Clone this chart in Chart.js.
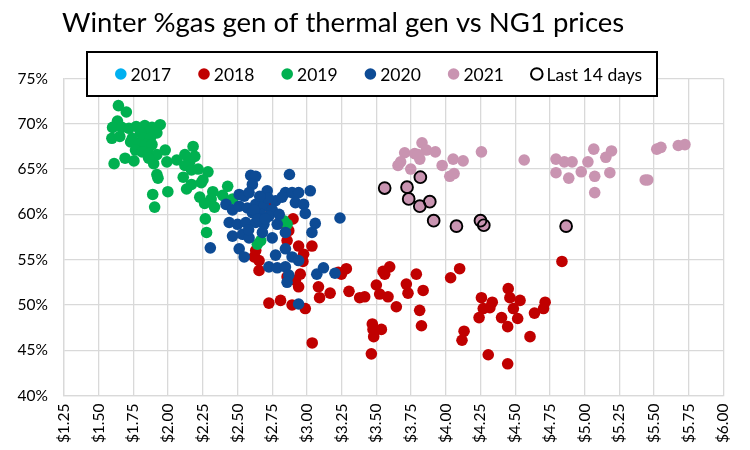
<!DOCTYPE html>
<html>
<head>
<meta charset="utf-8">
<script src="https://cdn.jsdelivr.net/npm/chart.js@4/dist/chart.umd.min.js"></script>
<style>
html,body{margin:0;padding:0;background:#fff;}
#wrap{width:750px;height:450px;position:relative;}
</style>
</head>
<body>
<div id="wrap"><canvas id="c" width="750" height="450"></canvas></div>
<script>
const TITLE = 'Winter %gas gen of thermal gen vs NG1 prices';
const seriesNames = ['2017', '2018', '2019', '2020', '2021', 'Last 14 days'];
const xTickMin = 1.25, xTickMax = 6.00, xTickStep = 0.25;
const yTickMin = 40, yTickMax = 75, yTickStep = 5;

// [NG1 price $, % gas gen of thermal gen]
const data2017 = [];
const data2018 = [
 [2.714,60.9],[2.869,58.2],[2.857,57.1],[2.940,56.5],[3.036,56.5],[2.976,55.6],[2.631,56.0],[2.655,54.9],
 [2.655,53.8],[2.857,53.1],[2.917,52.7],[2.940,52.0],[2.952,53.4],[3.083,52.0],[3.167,51.3],[3.226,53.6],
 [2.726,50.2],[2.810,50.5],[2.893,50.0],[2.988,49.6],[2.620,55.3],[2.800,59.0],[2.900,59.5],[2.971,54.8],
 [3.284,54.0],[3.248,53.4],[3.548,53.7],[3.596,54.2],[3.560,53.4],[3.788,53.4],[3.716,52.3],[3.837,51.6],
 [3.728,51.3],[3.500,52.2],[3.524,51.2],[3.584,50.9],[3.416,50.9],[3.380,50.8],[3.303,51.5],[3.091,50.8],
 [3.644,49.8],[3.812,49.4],[3.825,47.7],[3.471,47.9],[3.476,47.3],[3.536,47.3],[3.481,46.5],[3.464,44.6],
 [3.038,45.8],[4.035,53.0],[4.100,54.0],[4.837,54.8],[4.450,51.8],[4.257,50.8],[4.462,50.8],[4.535,50.5],
 [4.335,50.3],[4.270,49.6],[4.318,49.7],[4.487,49.6],[4.240,48.6],[4.402,48.6],[4.518,48.5],[4.446,47.6],
 [4.639,49.1],[4.704,49.6],[4.716,50.3],[4.607,46.5],[4.132,47.1],[4.117,46.1],[4.306,44.5],[4.446,43.5]
];
const data2019 = [
 [1.642,72.0],[1.699,71.3],[1.635,70.3],[1.600,69.6],[1.666,69.6],[1.595,68.4],[1.652,68.6],[1.718,69.5],
 [1.770,69.7],[1.832,69.8],[1.884,69.6],[1.943,69.9],[1.919,69.0],[1.860,69.1],[1.801,69.0],[1.742,68.4],
 [1.825,68.4],[1.872,68.4],[1.730,68.0],[1.784,67.7],[1.837,67.7],[1.884,67.7],[1.765,67.1],[1.813,66.9],
 [1.860,66.7],[1.979,67.1],[1.919,66.6],[1.896,65.6],[1.991,65.8],[1.860,66.2],[1.690,66.2],[1.754,65.9],
 [1.611,65.6],[2.062,66.0],[2.121,66.6],[2.180,67.5],[2.192,66.4],[2.156,65.8],[2.121,65.4],[2.168,64.9],
 [2.216,65.0],[2.287,64.7],[2.109,64.1],[1.919,64.4],[1.927,64.0],[1.998,62.5],[1.889,62.2],[1.903,60.8],
 [2.133,62.8],[2.168,63.3],[2.239,63.5],[2.251,63.8],[2.228,61.9],[2.322,62.5],[2.310,61.7],[2.263,61.2],
 [2.334,60.8],[2.429,63.1],[2.393,62.1],[2.465,61.7],[2.268,59.5],[2.277,58.0],[2.833,59.3],[2.857,58.9],
 [2.643,56.7],[2.667,57.1],[2.679,61.1]
];
const data2020 = [
 [2.595,64.3],[2.631,64.2],[2.874,64.4],[2.607,63.3],[2.714,62.6],[2.512,62.2],[2.548,62.0],[2.583,62.4],
 [2.845,62.4],[2.893,62.4],[2.940,62.4],[3.024,62.6],[2.774,61.5],[2.821,61.9],[2.917,61.3],[2.976,61.1],
 [2.988,60.1],[2.417,61.1],[2.464,60.5],[2.512,60.9],[2.571,60.7],[2.631,61.1],[2.690,60.9],[2.750,60.5],
 [2.726,59.8],[2.667,60.0],[2.607,60.2],[2.440,59.1],[2.500,58.9],[2.560,59.1],[2.631,59.1],[2.690,58.9],
 [2.786,58.9],[2.845,58.0],[2.464,57.6],[2.536,57.8],[2.583,57.4],[2.679,58.0],[2.750,57.4],[3.060,59.0],
 [3.036,58.0],[3.238,59.6],[2.512,56.2],[2.548,55.3],[2.774,55.5],[2.845,56.2],[2.893,55.3],[2.940,54.9],
 [2.726,54.2],[2.786,54.1],[2.845,54.2],[2.869,53.3],[2.857,52.5],[3.071,53.4],[3.119,54.1],[3.202,53.5],
 [2.940,50.1],[2.304,56.3],[2.620,60.5],[2.650,59.5],[2.700,59.5],[2.580,58.3],[2.720,61.8],[2.800,60.0],
 [2.660,62.0]
];
const data2021 = [
 [3.829,67.9],[3.704,66.8],[3.776,66.7],[3.861,67.1],[3.925,66.9],[3.675,65.8],[3.656,65.4],[3.748,65.0],
 [3.813,66.1],[3.800,66.6],[3.974,65.4],[4.053,66.1],[4.125,65.9],[4.257,66.9],[4.565,66.0],[4.029,64.2],
 [4.060,64.5],[4.794,66.1],[4.794,64.6],[4.854,65.8],[4.910,65.8],[4.886,64.0],[4.976,64.7],[5.024,65.8],
 [5.066,67.2],[5.073,64.2],[5.073,62.4],[5.153,66.3],[5.194,67.0],[5.182,64.6],[5.437,63.8],[5.455,63.8],
 [5.520,67.2],[5.550,67.4],[5.675,67.6],[5.723,67.7]
];
const dataLast14 = [
 [3.560,62.9],[3.721,63.0],[3.733,61.7],[3.817,64.1],[3.813,60.9],[3.885,61.4],[3.913,59.3],[4.077,58.7],
 [4.250,59.3],[4.274,58.8],[4.867,58.7]
];

const colors = ['#00B0F0', '#C00000', '#00B050', '#0D4B95', '#C994B1', '#000000'];
const toPts = arr => arr.map(p => ({x: p[0], y: p[1]}));
const allSeries = [data2017, data2018, data2019, data2020, data2021.concat(dataLast14), dataLast14];

const datasets = allSeries.map((arr, i) => {
  const last = i === 5;
  return {
    label: seriesNames[i],
    data: toPts(arr),
    order: 10 - i,
    pointRadius: last ? 5.9 : 5.8,
    pointHoverRadius: last ? 5.9 : 5.8,
    backgroundColor: last ? 'rgba(0,0,0,0)' : colors[i],
    borderColor: last ? '#000' : colors[i],
    pointBorderWidth: last ? 1.9 : 0,
    borderWidth: last ? 1.9 : 0
  };
});

const FONT = 'Lato, "Open Sans", sans-serif';

const titlePlugin = {
  id: 'titleText',
  afterDraw(chart) {
    const ctx = chart.ctx;
    ctx.save();
    ctx.font = '27.5px ' + FONT;
    ctx.fillStyle = '#000';
    ctx.textBaseline = 'alphabetic';
    ctx.textAlign = 'left';
    ctx.fillText(TITLE, 62, 32);
    ctx.restore();
  }
};

const legendPlugin = {
  id: 'boxLegend',
  afterDraw(chart) {
    const ctx = chart.ctx;
    const bx = 87, by = 52, bw = 570, bh = 44;
    ctx.save();
    ctx.fillStyle = '#fff';
    ctx.fillRect(bx, by, bw, bh);
    ctx.lineWidth = 2;
    ctx.strokeStyle = '#000';
    ctx.strokeRect(bx, by, bw, bh);
    ctx.font = '17.5px ' + FONT;
    ctx.textBaseline = 'middle';
    ctx.textAlign = 'left';
    const r = 5.8, gapText = 4, gapItem = 27;
    let x = bx + 28;
    const cy = by + bh / 2;
    seriesNames.forEach((n, i) => {
      ctx.beginPath();
      ctx.arc(x + r, cy, r, 0, Math.PI * 2);
      if (i === 5) {
        ctx.lineWidth = 2; ctx.strokeStyle = '#000'; ctx.stroke();
      } else {
        ctx.fillStyle = colors[i]; ctx.fill();
      }
      ctx.fillStyle = '#000';
      const tx = x + 2 * r + gapText;
      ctx.fillText(n, tx, cy + 1);
      x = tx + ctx.measureText(n).width + gapItem;
    });
    ctx.restore();
  }
};

new Chart(document.getElementById('c'), {
  type: 'scatter',
  data: { datasets },
  options: {
    responsive: false,
    animation: false,
    events: [],
    layout: { padding: { top: 78.5, right: 25, left: 0, bottom: 0 } },
    plugins: {
      legend: { display: false },
      title: { display: false },
      tooltip: { enabled: false }
    },
    scales: {
      x: {
        type: 'linear',
        min: xTickMin, max: xTickMax,
        afterFit: s => { s.height = 54.5; },
        afterBuildTicks: s => {
          const t = [];
          for (let v = xTickMin; v <= xTickMax + 1e-9; v += xTickStep) t.push({ value: Math.round(v * 100) / 100 });
          s.ticks = t;
        },
        grid: { color: '#D9D9D9', lineWidth: 1.3, drawTicks: false },
        border: { color: '#D9D9D9', width: 1.3 },
        ticks: {
          minRotation: 90, maxRotation: 90, padding: 8, autoSkip: false,
          color: '#000', font: { family: FONT, size: 15.5 },
          callback: v => '$' + Number(v).toFixed(2)
        }
      },
      y: {
        type: 'linear',
        min: yTickMin, max: yTickMax,
        afterFit: s => { s.width = 64; },
        grid: { color: '#D9D9D9', lineWidth: 1.3, drawTicks: false },
        border: { color: '#D9D9D9', width: 1.3 },
        ticks: {
          stepSize: yTickStep, padding: 16, color: '#000',
          font: { family: FONT, size: 15.5 },
          callback: v => v + '%'
        }
      }
    }
  },
  plugins: [titlePlugin, legendPlugin]
});
</script>
</body>
</html>
